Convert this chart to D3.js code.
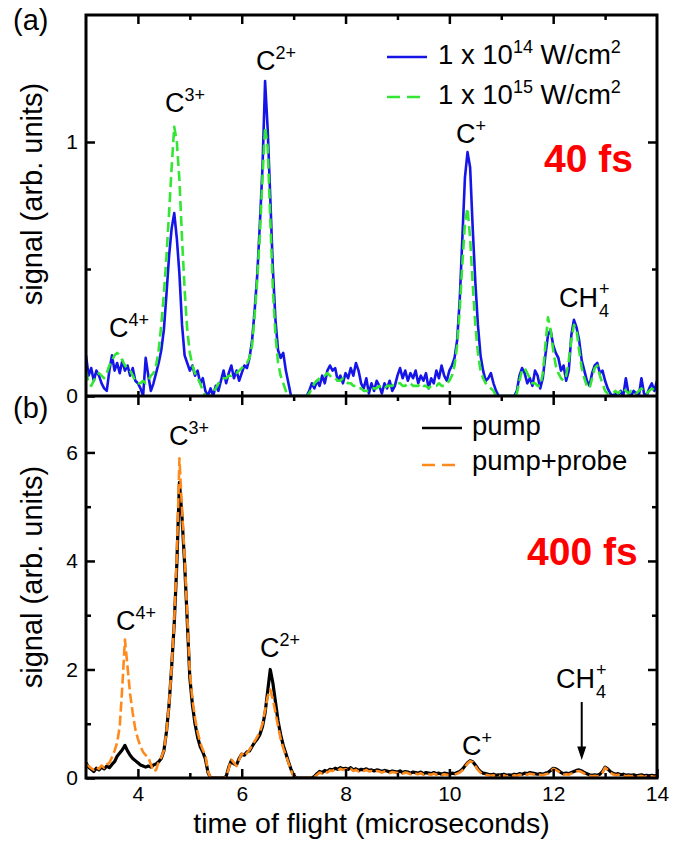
<!DOCTYPE html>
<html><head><meta charset="utf-8">
<script src="https://cdn.jsdelivr.net/npm/d3@7"></script>
<style>
body{margin:0;background:#fff;}
text{font-family:"Liberation Sans",Arial,Helvetica,sans-serif;fill:#000;}
</style></head><body>
<svg id="chart" width="680" height="841"></svg>
<script>
// ---------- data ----------
const timeStart = 3, timeStep = 0.05;   // sampling grid (microseconds)
const xTicksMajor = [4, 6, 8, 10, 12, 14];
const xTicksMinor = [5, 7, 9, 11, 13];
const yTicksA = [0, 1], yMinorA = [0.5];
const yTicksB = [0, 2, 4, 6], yMinorB = [1, 3, 5];
const legendA = ["1 x 10|14| W/cm|2", "1 x 10|15| W/cm|2"];
const legendB = ["pump", "pump+probe"];

// panel (a): 40 fs, 1e14 W/cm2 (blue)
const blue14 = [
 0.16,0.08,0.11,0.06,0.10,0.08,0.05,0.03,0.02,0.10,0.16,0.10,0.13,0.09,0.14,0.10,0.12,0.08,0.11,0.06,
 0.05,0.03,0.00,0.15,0.08,0.02,0.05,0.09,0.13,0.18,0.26,0.40,0.55,0.66,0.72,0.62,0.48,0.28,0.16,0.13,
 0.10,0.12,0.08,0.10,0.05,0.07,0.02,0.00,0.03,0.00,0.04,0.02,0.06,0.10,0.05,0.09,0.12,0.07,0.10,0.06,
 0.09,0.12,0.11,0.15,0.22,0.34,0.48,0.68,0.90,1.24,1.05,0.78,0.50,0.30,0.18,0.15,0.17,0.10,0.05,0.00,
 0.00,0.00,0.00,0.00,0.00,0.00,0.02,0.05,0.03,0.06,0.04,0.08,0.05,0.10,0.12,0.10,0.11,0.06,0.08,0.05,
 0.09,0.07,0.11,0.08,0.13,0.10,0.05,0.03,0.07,0.01,0.05,0.02,0.06,0.04,0.01,0.05,0.03,0.06,0.02,0.04,
 0.08,0.11,0.07,0.10,0.06,0.09,0.07,0.10,0.05,0.08,0.06,0.09,0.03,0.07,0.05,0.10,0.07,0.12,0.08,0.06,
 0.10,0.12,0.15,0.22,0.38,0.62,0.86,0.96,0.90,0.66,0.45,0.28,0.16,0.10,0.06,0.07,0.09,0.05,0.02,0.00,
 0.00,0.00,0.00,0.00,0.00,0.00,0.02,0.08,0.11,0.09,0.05,0.07,0.04,0.10,0.08,0.03,0.07,0.16,0.24,0.26,
 0.20,0.17,0.15,0.10,0.12,0.06,0.10,0.24,0.30,0.27,0.22,0.14,0.10,0.06,0.04,0.09,0.12,0.13,0.09,0.10,
 0.06,0.03,0.01,0.00,0.01,0.00,0.02,0.00,0.07,0.01,0.00,0.02,0.01,0.00,0.07,0.01,0.00,0.03,0.05,0.02,
 0.06
];
// panel (a): 40 fs, 1e15 W/cm2 (green dashed)
const green15 = [
 0.10,0.05,0.04,0.06,0.08,0.09,0.08,0.07,0.09,0.12,0.14,0.16,0.17,0.16,0.14,0.12,0.11,0.10,0.08,0.06,
 0.05,0.05,0.06,0.05,0.06,0.08,0.09,0.12,0.18,0.28,0.40,0.55,0.72,0.90,1.06,1.00,0.85,0.62,0.42,0.26,
 0.17,0.12,0.09,0.07,0.05,0.02,0.00,0.00,0.00,0.01,0.03,0.05,0.06,0.07,0.07,0.08,0.08,0.09,0.09,0.10,
 0.11,0.12,0.13,0.15,0.20,0.32,0.46,0.64,0.86,1.06,0.98,0.70,0.42,0.24,0.13,0.08,0.05,0.02,0.00,0.00,
 0.00,0.00,0.00,0.00,0.00,0.00,0.01,0.03,0.05,0.06,0.07,0.08,0.08,0.09,0.08,0.07,0.07,0.06,0.06,0.07,
 0.06,0.05,0.05,0.04,0.04,0.03,0.03,0.02,0.02,0.02,0.03,0.03,0.03,0.04,0.03,0.03,0.04,0.04,0.04,0.05,
 0.05,0.05,0.04,0.04,0.05,0.05,0.04,0.04,0.04,0.05,0.04,0.04,0.03,0.04,0.04,0.04,0.05,0.04,0.04,0.05,
 0.06,0.08,0.12,0.20,0.34,0.52,0.68,0.74,0.62,0.44,0.28,0.17,0.10,0.07,0.05,0.04,0.03,0.02,0.00,0.00,
 0.00,0.00,0.00,0.00,0.00,0.00,0.01,0.06,0.10,0.11,0.09,0.07,0.05,0.05,0.04,0.04,0.09,0.20,0.31,0.26,
 0.18,0.12,0.09,0.07,0.06,0.08,0.14,0.22,0.28,0.26,0.18,0.11,0.07,0.04,0.03,0.07,0.11,0.12,0.08,0.05,
 0.02,0.01,0.01,0.01,0.02,0.01,0.02,0.03,0.02,0.01,0.02,0.02,0.01,0.02,0.03,0.02,0.01,0.02,0.03,0.02,
 0.02
];
// panel (b): 400 fs, pump (black)
const pump = [
 0.28,0.20,0.16,0.12,0.18,0.15,0.20,0.17,0.22,0.19,0.25,0.30,0.40,0.46,0.52,0.60,0.50,0.42,0.36,0.32,
 0.28,0.24,0.22,0.20,0.22,0.20,0.24,0.26,0.30,0.36,0.50,0.85,1.35,2.05,2.85,3.95,5.45,4.80,3.95,2.91,
 1.85,1.35,1.00,0.75,0.58,0.48,0.35,0.10,0.00,0.00,0.00,0.00,0.00,0.00,0.03,0.20,0.32,0.26,0.24,0.36,
 0.44,0.42,0.48,0.50,0.58,0.66,0.72,0.80,0.95,1.20,1.60,2.00,1.75,1.40,1.05,0.80,0.60,0.45,0.30,0.16,
 0.05,0.00,0.00,0.00,0.00,0.00,0.00,0.00,0.03,0.08,0.12,0.10,0.14,0.12,0.16,0.15,0.18,0.16,0.19,0.17,
 0.18,0.16,0.19,0.15,0.17,0.14,0.16,0.15,0.17,0.14,0.15,0.13,0.15,0.14,0.12,0.14,0.13,0.11,0.13,0.12,
 0.11,0.13,0.10,0.12,0.11,0.09,0.11,0.10,0.09,0.11,0.08,0.10,0.09,0.08,0.10,0.08,0.09,0.07,0.09,0.08,
 0.07,0.09,0.08,0.10,0.12,0.16,0.22,0.28,0.32,0.30,0.24,0.17,0.12,0.09,0.08,0.07,0.06,0.07,0.05,0.06,
 0.05,0.07,0.05,0.06,0.05,0.07,0.06,0.08,0.07,0.09,0.08,0.10,0.09,0.08,0.07,0.08,0.07,0.09,0.10,0.14,
 0.18,0.17,0.14,0.10,0.08,0.09,0.08,0.10,0.12,0.14,0.15,0.13,0.10,0.08,0.06,0.05,0.06,0.05,0.07,0.12,
 0.20,0.17,0.12,0.09,0.07,0.08,0.06,0.07,0.05,0.06,0.05,0.06,0.04,0.05,0.06,0.04,0.05,0.04,0.05,0.04,
 0.05
];
// panel (b): 400 fs, pump+probe (orange dashed)
const pumpProbe = [
 0.25,0.22,0.18,0.15,0.20,0.17,0.23,0.19,0.25,0.28,0.38,0.50,0.65,0.95,1.69,2.55,2.05,1.55,1.20,0.90,
 0.72,0.58,0.48,0.42,0.38,0.25,0.12,0.15,0.30,0.38,0.50,0.85,1.35,2.05,2.90,4.10,5.89,4.95,4.05,3.00,
 1.95,1.45,1.10,0.85,0.65,0.52,0.42,0.12,0.00,0.00,0.00,0.00,0.00,0.00,0.02,0.18,0.34,0.28,0.22,0.34,
 0.45,0.40,0.46,0.52,0.60,0.68,0.76,0.85,1.00,1.25,1.50,1.63,1.45,1.20,0.95,0.72,0.55,0.42,0.28,0.14,
 0.03,0.00,0.00,0.00,0.00,0.00,0.00,0.00,0.02,0.06,0.10,0.08,0.12,0.10,0.14,0.13,0.16,0.14,0.17,0.15,
 0.16,0.14,0.17,0.13,0.15,0.12,0.14,0.13,0.15,0.12,0.13,0.11,0.13,0.12,0.10,0.12,0.11,0.09,0.11,0.10,
 0.09,0.11,0.08,0.10,0.09,0.07,0.09,0.08,0.07,0.09,0.06,0.08,0.07,0.06,0.08,0.06,0.07,0.05,0.07,0.06,
 0.05,0.07,0.06,0.08,0.10,0.14,0.20,0.27,0.31,0.29,0.22,0.15,0.10,0.07,0.06,0.05,0.04,0.05,0.03,0.04,
 0.03,0.05,0.03,0.04,0.03,0.05,0.04,0.06,0.05,0.07,0.06,0.08,0.07,0.06,0.05,0.06,0.05,0.07,0.08,0.12,
 0.17,0.15,0.12,0.08,0.06,0.07,0.06,0.08,0.10,0.12,0.13,0.11,0.08,0.06,0.04,0.03,0.04,0.03,0.05,0.10,
 0.19,0.15,0.10,0.07,0.05,0.06,0.04,0.05,0.03,0.04,0.03,0.04,0.02,0.03,0.04,0.02,0.03,0.02,0.03,0.02,
 0.03
];

// ---------- layout ----------
const svg = d3.select("#chart");
const L = 86, R = 657, TA = 15, MID = 396, BB = 778;
const x = d3.scaleLinear().domain([3, 14]).range([L, R]);
const yA = d3.scaleLinear().domain([0, 1.5]).range([MID, TA]);
const yB = d3.scaleLinear().domain([0, 7.04]).range([BB, MID]);
const pts = vals => vals.map((v, i) => [timeStart + i * timeStep, v]);

const defs = svg.append("defs");
defs.append("clipPath").attr("id", "clipA").append("rect")
  .attr("x", L).attr("y", TA).attr("width", R - L).attr("height", MID - TA);
defs.append("clipPath").attr("id", "clipB").append("rect")
  .attr("x", L).attr("y", MID).attr("width", R - L).attr("height", BB - MID);

function drawLine(vals, y, clip, color, width, dash) {
  const line = d3.line().x(d => x(d[0])).y(d => y(d[1]));
  svg.append("path").datum(pts(vals)).attr("clip-path", `url(#${clip})`)
    .attr("d", line).attr("fill", "none").attr("stroke", color)
    .attr("stroke-width", width).attr("stroke-linejoin", "round")
    .attr("stroke-dasharray", dash || null);
}
const BLUE = "#1515e8", GREEN = "#33e633", ORANGE = "#ff8a1c", RED = "#ff0000";
drawLine(blue14, yA, "clipA", BLUE, 2.6);
drawLine(green15, yA, "clipA", GREEN, 2.6, "10,5");
drawLine(pump, yB, "clipB", "#000", 3.2);
drawLine(pumpProbe, yB, "clipB", ORANGE, 2.6, "10,4");

// ---------- axes ----------
function ax(gen, tr) {
  const g = svg.append("g").attr("transform", tr).call(gen);
  g.select(".domain").remove();
  g.selectAll(".tick line").attr("stroke", "#000").attr("stroke-width", 2.5);
  g.selectAll(".tick text").attr("font-size", 21).attr("font-family", '"Liberation Sans",Arial,sans-serif');
  return g;
}
// panel a top
ax(d3.axisTop(x).tickValues(xTicksMajor.slice(0, 5)).tickSize(-9).tickFormat(""), `translate(0,${TA})`);
ax(d3.axisTop(x).tickValues(xTicksMinor).tickSize(-5).tickFormat(""), `translate(0,${TA})`);
// shared boundary
ax(d3.axisBottom(x).tickValues(xTicksMajor.slice(0, 5)).tickSize(-5).tickFormat(""), `translate(0,${MID})`);
ax(d3.axisTop(x).tickValues(xTicksMajor.slice(0, 5)).tickSize(-9).tickFormat(""), `translate(0,${MID})`);
ax(d3.axisTop(x).tickValues(xTicksMinor).tickSize(-5).tickFormat(""), `translate(0,${MID})`);
// panel b bottom
ax(d3.axisBottom(x).tickValues(xTicksMajor).tickSize(-9).tickPadding(8).tickFormat(d3.format("d")), `translate(0,${BB})`);
ax(d3.axisBottom(x).tickValues(xTicksMinor).tickSize(-5).tickFormat(""), `translate(0,${BB})`);
// left/right panel a
ax(d3.axisLeft(yA).tickValues(yTicksA).tickSize(-9).tickPadding(8).tickFormat(d3.format("d")), `translate(${L},0)`);
ax(d3.axisLeft(yA).tickValues(yMinorA).tickSize(-5).tickFormat(""), `translate(${L},0)`);
ax(d3.axisRight(yA).tickValues([1]).tickSize(-9).tickFormat(""), `translate(${R},0)`);
ax(d3.axisRight(yA).tickValues(yMinorA).tickSize(-5).tickFormat(""), `translate(${R},0)`);
// left/right panel b
ax(d3.axisLeft(yB).tickValues(yTicksB).tickSize(-9).tickPadding(8).tickFormat(d3.format("d")), `translate(${L},0)`);
ax(d3.axisLeft(yB).tickValues(yMinorB).tickSize(-5).tickFormat(""), `translate(${L},0)`);
ax(d3.axisRight(yB).tickValues(yTicksB.slice(1)).tickSize(-9).tickFormat(""), `translate(${R},0)`);
ax(d3.axisRight(yB).tickValues(yMinorB).tickSize(-5).tickFormat(""), `translate(${R},0)`);

// frame
svg.append("rect").attr("x", L).attr("y", TA).attr("width", R - L).attr("height", BB - TA)
  .attr("fill", "none").attr("stroke", "#000").attr("stroke-width", 3);
svg.append("line").attr("x1", L).attr("x2", R).attr("y1", MID).attr("y2", MID)
  .attr("stroke", "#000").attr("stroke-width", 3);

// ---------- text ----------
function txt(xp, yp, s, size, opts = {}) {
  const t = svg.append("text").attr("x", xp).attr("y", yp).attr("font-size", size).text(s);
  if (opts.anchor) t.attr("text-anchor", opts.anchor);
  if (opts.bold) t.attr("font-weight", "bold");
  if (opts.fill) t.style("fill", opts.fill);
  if (opts.rotate) t.attr("transform", `rotate(-90,${xp},${yp})`);
  return t;
}
function ion(xp, yp, base, sup, size = 27, supSize = 18) {
  const t = svg.append("text").attr("x", xp).attr("y", yp).attr("font-size", size);
  t.append("tspan").text(base);
  t.append("tspan").attr("font-size", supSize).attr("dy", -11).text(sup);
}
function ch4(xp, yp) {
  const t = svg.append("text").attr("x", xp).attr("y", yp).attr("font-size", 27).text("CH");
  const w = t.node().getComputedTextLength();
  txt(xp + w + 1, yp + 10, "4", 18);
  txt(xp + w + 1, yp - 12, "+", 18);
}

txt(13, 30, "(a)", 29);
txt(13, 418, "(b)", 29);
txt(42, 194, "signal (arb. units)", 29, { anchor: "middle", rotate: true });
txt(42, 577, "signal (arb. units)", 29, { anchor: "middle", rotate: true });
txt((L + R) / 2, 833, "time of flight (microseconds)", 28.5, { anchor: "middle" });

// panel a annotations
ion(256, 70, "C", "2+");
ion(165, 112, "C", "3+");
ion(109, 337, "C", "4+");
ion(456, 143, "C", "+");
ch4(559, 307);
txt(544, 172, "40 fs", 39, { bold: true, fill: RED });

// panel b annotations
ion(169, 445, "C", "3+");
ion(116, 630, "C", "4+");
ion(260, 657, "C", "2+");
ion(462, 755, "C", "+");
ch4(556, 688);
txt(527, 565, "400 fs", 39, { bold: true, fill: RED });
// arrow to CH4+ in panel b
svg.append("line").attr("x1", x(12.55)).attr("x2", x(12.55)).attr("y1", yB(1.40)).attr("y2", yB(0.55))
  .attr("stroke", "#000").attr("stroke-width", 2);
svg.append("path").attr("d", d3.line()([[x(12.55) - 4.5, yB(0.58)], [x(12.55) + 4.5, yB(0.58)], [x(12.55), yB(0.33)]]) + "Z")
  .attr("fill", "#000");

// legends
function legendText(xp, yp, spec) {
  const parts = spec.split("|");
  const t = svg.append("text").attr("x", xp).attr("y", yp).attr("font-size", 27.5);
  parts.forEach((p, i) => {
    const sp = t.append("tspan").text(p);
    if (i % 2 === 1) sp.attr("font-size", 18).attr("dy", -11);
    else if (i > 0) sp.attr("dy", 11);
  });
}
svg.append("line").attr("x1", 387).attr("x2", 427).attr("y1", 57).attr("y2", 57).attr("stroke", BLUE).attr("stroke-width", 2.6);
svg.append("line").attr("x1", 387).attr("x2", 427).attr("y1", 97).attr("y2", 97).attr("stroke", GREEN).attr("stroke-width", 2.6).attr("stroke-dasharray", "13,7");
legendText(438, 64, legendA[0]);
legendText(438, 104, legendA[1]);

svg.append("line").attr("x1", 422).attr("x2", 462).attr("y1", 428).attr("y2", 428).attr("stroke", "#000").attr("stroke-width", 2.6);
svg.append("line").attr("x1", 422).attr("x2", 462).attr("y1", 465).attr("y2", 465).attr("stroke", ORANGE).attr("stroke-width", 2.6).attr("stroke-dasharray", "13,7");
legendText(472, 435, legendB[0]);
legendText(472, 470, legendB[1]);
</script>
</body></html>
